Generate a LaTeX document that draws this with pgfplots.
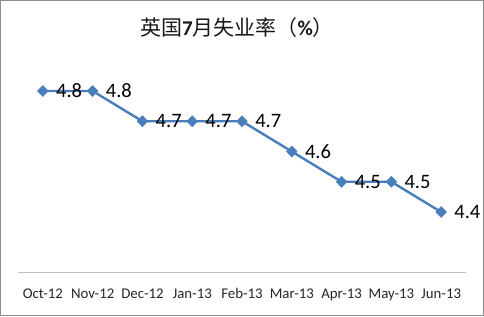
\documentclass[border=0pt]{standalone}
\usepackage{pgfplots}
\pgfplotsset{compat=1.18}
\usepackage{fontspec}
\setmainfont{Carlito}
\newfontfamily\cjk{Noto Sans CJK SC}
\definecolor{ser}{HTML}{4A7EBB}
\definecolor{frame}{HTML}{8C8C8C}
\definecolor{axl}{HTML}{BFBFBF}
\begin{document}
\begin{tikzpicture}[x=1bp,y=1bp]
\draw[frame, line width=1bp] (0.5,0.5) rectangle (483.5,315.5);
\node[font=\fontsize{21bp}{25bp}\selectfont, anchor=center, text=black!90] at (237,288)
  {{\cjk 英国}\textbf{7}{\cjk 月失业率（}\textbf{\%}{\cjk ）}};
\begin{axis}[
  at={(18bp,43.5bp)}, anchor=south west,
  scale only axis, width=448bp, height=211.75bp,
  xmin=-0.5, xmax=8.5, ymin=4.2, ymax=4.9,
  axis y line=none,
  axis x line*=bottom,
  x axis line style={-, draw=axl, line width=1.2bp},
  xtick={0,...,8},
  xticklabels={Oct-12,Nov-12,Dec-12,Jan-13,Feb-13,Mar-13,Apr-13,May-13,Jun-13},
  major tick length=0pt,
  xticklabel style={anchor=base, yshift=-25.8bp, font=\fontsize{14.8bp}{17bp}\selectfont, text=black!85},
  /pgf/number format/assume math mode=true,
  clip=false,
  nodes near coords={\pgfmathprintnumber[fixed,precision=1,fixed zerofill]{\pgfplotspointmeta}},
  nodes near coords style={anchor=west, inner sep=0pt, xshift=13bp, font=\fontsize{20.5bp}{24bp}\selectfont, text=black},
]
\addplot[color=ser, line width=2.4bp, mark=diamond*, mark size=5.5bp, mark options={xscale=1.3, fill=ser, draw=ser, line width=0.5bp}]
  coordinates {(0,4.8) (1,4.8) (2,4.7) (3,4.7) (4,4.7) (5,4.6) (6,4.5) (7,4.5) (8,4.4)};
\end{axis}
\end{tikzpicture}
\end{document}
